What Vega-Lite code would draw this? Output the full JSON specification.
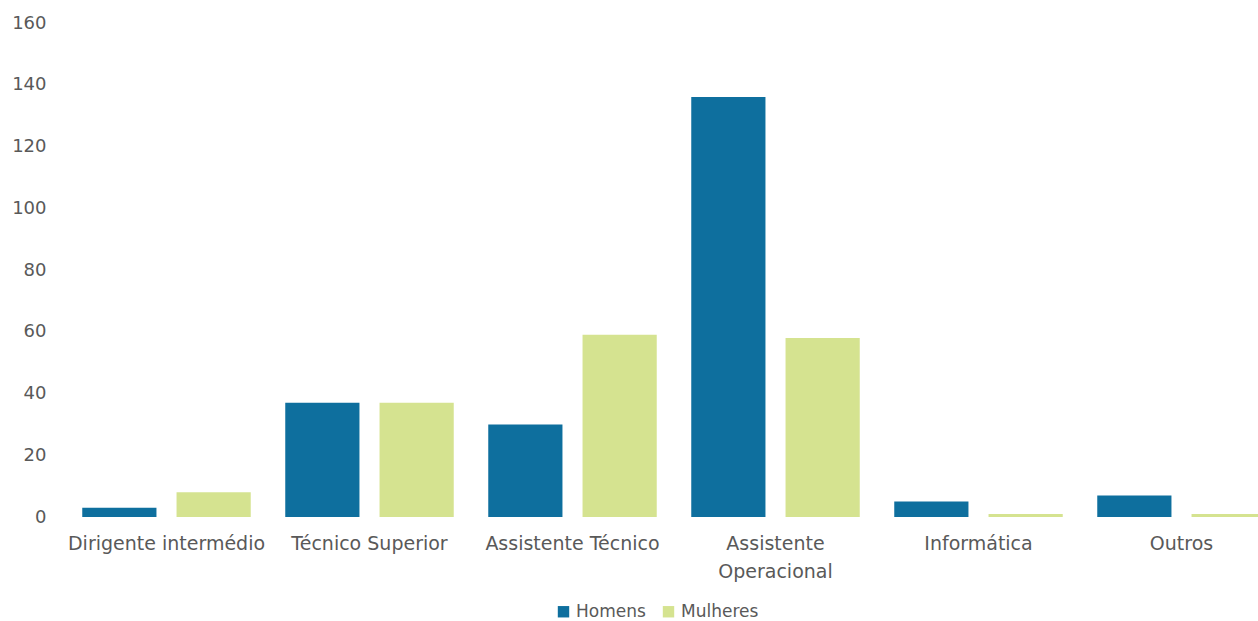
{
  "$schema": "https://vega.github.io/schema/vega-lite/v6.json",
  "autosize": "none",
  "padding": {"left": 65, "top": 23, "right": 0, "bottom": 104},
  "width": 1218,
  "height": 494,
  "background": "white",
  "config": {"view": {"stroke": null}, "font": "DejaVu Sans"},
  "data": {"values": [
    {"cat": "Dirigente intermédio", "sexo": "Homens", "v": 3},
    {"cat": "Dirigente intermédio", "sexo": "Mulheres", "v": 8},
    {"cat": "Técnico Superior", "sexo": "Homens", "v": 37},
    {"cat": "Técnico Superior", "sexo": "Mulheres", "v": 37},
    {"cat": "Assistente Técnico", "sexo": "Homens", "v": 30},
    {"cat": "Assistente Técnico", "sexo": "Mulheres", "v": 59},
    {"cat": "Assistente Operacional", "sexo": "Homens", "v": 136},
    {"cat": "Assistente Operacional", "sexo": "Mulheres", "v": 58},
    {"cat": "Informática", "sexo": "Homens", "v": 5},
    {"cat": "Informática", "sexo": "Mulheres", "v": 1},
    {"cat": "Outros", "sexo": "Homens", "v": 7},
    {"cat": "Outros", "sexo": "Mulheres", "v": 1}
  ]},
  "mark": {"type": "bar"},
  "encoding": {
    "x": {"field": "cat", "type": "nominal", "sort": null,
      "scale": {"paddingInner": 0.17, "paddingOuter": 0.085},
      "axis": {"title": null, "labelAngle": 0, "domain": false, "ticks": false, "labelPadding": 17, "labelLimit": 400,
        "labelFontSize": 19, "labelColor": "#595959", "labelLineHeight": 28,
        "labelExpr": "datum.label == 'Assistente Operacional' ? ['Assistente', 'Operacional'] : datum.label"}},
    "xOffset": {"field": "sexo", "type": "nominal", "scale": {"paddingInner": 0.213}},
    "y": {"field": "v", "type": "quantitative",
      "scale": {"domain": [0, 160]},
      "axis": {"title": null, "values": [0, 20, 40, 60, 80, 100, 120, 140, 160], "grid": false, "domain": false, "ticks": false,
        "labelPadding": 19, "labelFontSize": 18, "labelColor": "#595959"}},
    "color": {"field": "sexo", "type": "nominal",
      "scale": {"domain": ["Homens", "Mulheres"], "range": ["#0e6f9e", "#d5e390"]},
      "legend": {"title": null, "orient": "none", "direction": "horizontal", "legendX": 490, "legendY": 580,
        "symbolType": "square", "symbolSize": 130, "labelFontSize": 17, "labelColor": "#595959", "columnPadding": 14, "labelOffset": 4}}
  }
}
